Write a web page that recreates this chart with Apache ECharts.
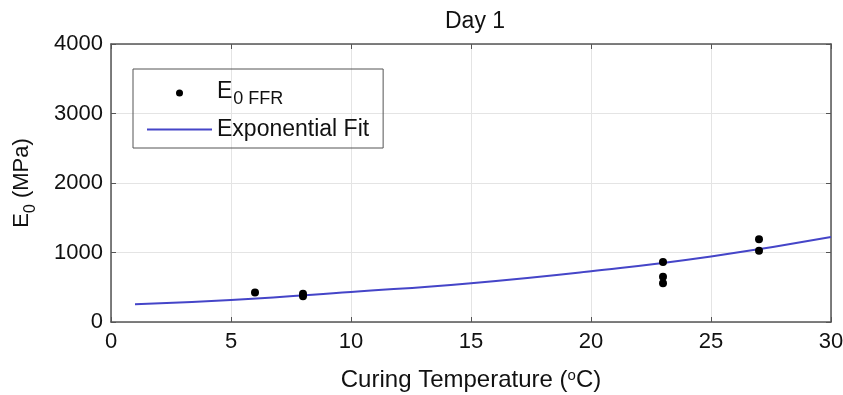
<!DOCTYPE html>
<html>
<head>
<meta charset="utf-8">
<script src="https://cdn.jsdelivr.net/npm/echarts@6/dist/echarts.min.js"></script>
<style>
  html, body { margin: 0; padding: 0; background: #fff; }
  #chart { width: 843px; height: 395px; }
</style>
</head>
<body>
<div id="chart"></div>
<script>
// Measured elastic modulus at day 1 vs. curing temperature
const tempPoints = [6, 8, 8, 23, 23, 23, 27, 27];
const e0Values = [425, 405, 370, 865, 652, 557, 1192, 1026];

// Exponential fit curve, sampled along the temperature range
const fitTemps = [1, 5, 10, 15, 20, 25, 30];
const fitValues = [255, 318, 432, 558, 730, 942, 1222];

const xTicks = [0, 5, 10, 15, 20, 25, 30];
const yTicks = [0, 1000, 2000, 3000, 4000];

const font = 'Liberation Sans, Arial, sans-serif';
const frameColor = '#555555';
const gridColor = '#e4e4e4';
const fitColor = '#4545c8';

const chart = echarts.init(document.getElementById('chart'), null, { renderer: 'canvas' });

const baseX = {
  type: 'value', min: xTicks[0], max: xTicks[xTicks.length - 1], interval: 5,
  axisLine: { show: true, onZero: false, lineStyle: { color: frameColor, width: 1.5 } },
  axisTick: { show: true, inside: true, length: 5, lineStyle: { color: frameColor } }
};
const baseY = {
  type: 'value', min: yTicks[0], max: yTicks[yTicks.length - 1], interval: 1000,
  axisLine: { show: true, onZero: false, lineStyle: { color: frameColor, width: 1.5 } },
  axisTick: { show: true, inside: true, length: 5, lineStyle: { color: frameColor } }
};

chart.setOption({
  animation: false,
  backgroundColor: '#ffffff',
  title: {
    text: 'Day 1',
    left: 440, top: 5,
    textStyle: { fontFamily: font, fontSize: 23, fontWeight: 'normal', color: '#111' }
  },
  grid: { left: 111, right: 12, top: 44, bottom: 73, outerBoundsMode: 'none', containLabel: false },
  legend: {
    left: 133, top: 69,
    orient: 'vertical',
    padding: [9, 14, 7, 13],
    itemGap: 10,
    itemWidth: 65,
    itemHeight: 7,
    borderColor: frameColor,
    borderWidth: 1,
    data: [
      { name: 'E0FFR', icon: 'circle', itemStyle: { color: '#000', opacity: 1 } },
      { name: 'Exponential Fit', itemStyle: { color: 'rgba(0,0,0,0)', borderWidth: 0, opacity: 0 }, lineStyle: { color: fitColor, width: 2 } }
    ],
    formatter: function (name) {
      if (name === 'E0FFR') return '{a|E}{b|0 FFR}';
      return '{c|' + name + '}';
    },
    textStyle: {
      fontFamily: font, color: '#111',
      rich: {
        a: { fontFamily: font, fontSize: 23, color: '#111', lineHeight: 30, verticalAlign: 'top', padding: [2, 0, 0, 0] },
        b: { fontFamily: font, fontSize: 18, color: '#111', lineHeight: 30, verticalAlign: 'bottom', padding: [0, 0, 0, 1] },
        c: { fontFamily: font, fontSize: 23, color: '#111', lineHeight: 30 }
      }
    }
  },
  xAxis: [
    Object.assign({}, baseX, {
      position: 'bottom',
      name: 'Curing Temperature ({s|o}C)',
      nameLocation: 'middle',
      nameGap: 46,
      nameTextStyle: {
        fontFamily: font, fontSize: 24, color: '#111',
        rich: { s: { fontFamily: font, fontSize: 15, color: '#111', verticalAlign: 'top', lineHeight: 24, padding: [0, 0, 10, 0] } }
      },
      axisLabel: { fontFamily: font, fontSize: 22, color: '#111', margin: 9 },
      splitLine: { show: true, lineStyle: { color: gridColor, width: 1 } }
    }),
    Object.assign({}, baseX, {
      position: 'top',
      axisLabel: { show: false },
      splitLine: { show: false }
    })
  ],
  yAxis: [
    Object.assign({}, baseY, {
      position: 'left',
      name: '{a|E}{b|0}{a| (MPa)}',
      nameLocation: 'middle',
      nameGap: 72,
      nameTextStyle: {
        fontFamily: font, color: '#111',
        rich: {
          a: { fontFamily: font, fontSize: 22, color: '#111', lineHeight: 28, verticalAlign: 'top' },
          b: { fontFamily: font, fontSize: 16, color: '#111', lineHeight: 28, verticalAlign: 'bottom' }
        }
      },
      axisLabel: { fontFamily: font, fontSize: 22, color: '#111', margin: 8, formatter: (v) => String(v) },
      splitLine: { show: true, lineStyle: { color: gridColor, width: 1 } }
    }),
    Object.assign({}, baseY, {
      position: 'right',
      axisLabel: { show: false },
      splitLine: { show: false }
    })
  ],
  series: [
    {
      name: 'E0FFR',
      type: 'scatter',
      symbol: 'circle',
      symbolSize: 8,
      itemStyle: { color: '#000', opacity: 1 },
      data: tempPoints.map((t, i) => [t, e0Values[i]]),
      z: 3
    },
    {
      name: 'Exponential Fit',
      type: 'line',
      smooth: true,
      showSymbol: false,
      symbol: 'none',
      lineStyle: { color: fitColor, width: 2 },
      itemStyle: { color: fitColor },
      data: fitTemps.map((t, i) => [t, fitValues[i]]),
      z: 2
    }
  ]
});
</script>
</body>
</html>
